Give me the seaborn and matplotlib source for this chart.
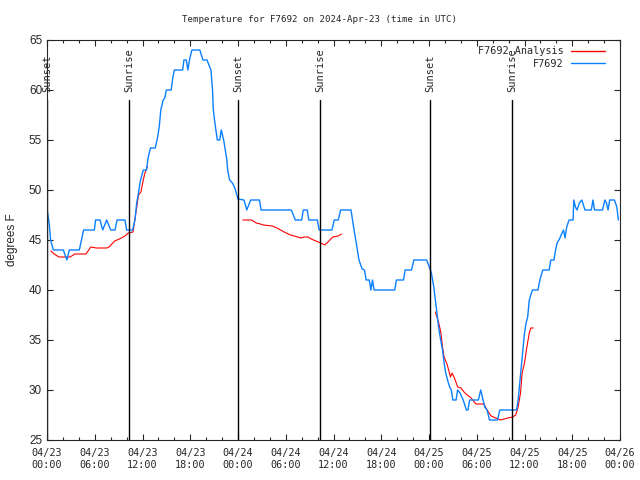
import pandas as pd
import matplotlib
matplotlib.use("Agg")
import matplotlib.pyplot as plt
import matplotlib.dates as mdates
from matplotlib.lines import Line2D
import seaborn as sns

# Observed temperature (hours after 2024-04-23 00:00 UTC, degrees F)
obs_hours = [0.0, 0.3, 0.45, 0.8, 2.05, 2.5, 2.8, 4.06, 4.6, 5.95, 6.1, 6.66, 7.0, 7.5, 8.0,
             8.55, 8.8, 9.8, 10.0, 10.76, 11.05, 11.27, 11.5, 11.7, 12.1, 12.5, 12.7, 13.0,
             13.6, 13.9, 14.1, 14.3, 14.6, 14.8, 15.0, 15.6, 15.8, 16.0, 17.05, 17.2, 17.5,
             17.7, 17.9, 18.2, 19.2, 19.6, 20.1, 20.6, 20.8, 20.9, 21.1, 21.4, 21.7, 21.9,
             22.2, 22.4, 22.6, 22.7, 22.95, 23.3, 23.6, 24.0, 24.75, 25.1, 25.6, 26.7, 26.9,
             30.7, 31.2, 32.0, 32.2, 32.7, 32.9, 33.97, 34.2, 35.8, 36.1, 36.6, 36.9, 38.2,
             38.6, 38.8, 39.0, 39.2, 39.6, 39.9, 40.1, 40.5, 40.7, 40.9, 41.1, 43.7, 43.9,
             44.8, 45.0, 45.8, 46.1, 47.7, 48.0, 48.3, 48.6, 48.8, 49.0, 49.2, 49.4, 49.7,
             49.9, 50.1, 50.4, 50.6, 50.8, 51.0, 51.4, 51.6, 51.9, 52.3, 52.7, 52.9, 53.1,
             54.2, 54.5, 54.8, 55.0, 55.3, 55.6, 56.6, 56.9, 59.0, 59.2, 59.4, 59.6, 59.8,
             60.0, 60.2, 60.4, 60.6, 60.8, 61.0, 61.7, 61.85, 62.0, 62.3, 63.1, 63.3, 63.7,
             63.9, 64.1, 64.4, 64.6, 64.9, 65.1, 65.3, 65.6, 66.1, 66.2, 66.4, 66.6, 66.9,
             67.2, 67.6, 68.4, 68.6, 68.8, 69.8, 70.1, 70.3, 70.5, 70.7, 71.3, 71.6, 71.8]
obs_temps = [48.1, 46.5, 45.0, 44.0, 44.0, 43.0, 44.0, 44.0, 46.0, 46.0, 47.0, 47.0, 46.0, 47.0, 46.0,
             46.0, 47.0, 47.0, 46.0, 46.0, 47.0, 48.7, 49.7, 50.8, 52.0, 52.0, 53.2, 54.2,
             54.2, 55.3, 56.3, 58.0, 59.0, 59.2, 60.0, 60.0, 61.2, 62.0, 62.0, 63.0, 63.0,
             62.0, 63.0, 64.0, 64.0, 63.0, 63.0, 62.0, 60.0, 58.0, 56.7, 55.0, 55.0, 56.0,
             55.0, 54.0, 53.0, 52.0, 51.0, 50.7, 50.2, 49.1, 49.0, 48.0, 49.0, 49.0, 48.0,
             48.0, 47.0, 47.0, 48.0, 48.0, 47.0, 47.0, 46.0, 46.0, 47.0, 47.0, 48.0, 48.0,
             45.9, 45.0, 44.0, 43.0, 42.1, 42.0, 41.0, 41.0, 40.0, 41.0, 40.0, 40.0, 41.0,
             41.0, 42.0, 42.0, 43.0, 43.0, 42.4, 41.7, 40.3, 39.0, 37.7, 36.3, 35.3, 34.0,
             32.7, 31.7, 30.8, 30.3, 30.0, 29.0, 29.0, 30.0, 29.7, 29.0, 28.0, 28.0, 29.0,
             29.0, 30.0, 29.0, 28.3, 28.0, 27.0, 27.0, 28.0, 28.0, 29.0, 30.7, 32.3, 34.0,
             35.7, 36.7, 37.3, 39.0, 39.5, 40.0, 40.0, 40.7, 41.2, 42.0, 42.0, 43.0, 43.0,
             44.0, 44.7, 45.1, 45.5, 46.0, 45.2, 46.3, 47.0, 47.0, 49.0, 48.3, 48.0, 48.7,
             49.0, 48.0, 48.0, 49.0, 48.0, 48.0, 49.0, 48.7, 48.0, 49.0, 49.0, 48.3, 47.0]

# Analysis temperature, three separate runs
ana1_hours = [0.5, 0.9, 1.5, 2.9, 3.5, 4.9, 5.5, 6.2, 7.5, 7.8, 8.5, 9.1, 9.8, 10.2, 10.8,
              11.0, 11.5, 11.8, 12.1, 12.3, 12.6]
ana1_temps = [43.9, 43.6, 43.3, 43.3, 43.6, 43.6, 44.3, 44.2, 44.2, 44.3, 44.9, 45.1, 45.4, 45.7, 45.8,
              46.8, 49.5, 49.8, 51.0, 51.7, 52.3]
ana2_hours = [24.6, 25.7, 26.3, 26.8, 27.2, 28.3, 28.9, 29.8, 30.6, 31.5, 31.9, 32.3, 32.8,
              33.2, 33.8, 34.4, 34.9, 35.3, 35.9, 36.6, 37.0]
ana2_temps = [47.0, 47.0, 46.7, 46.6, 46.5, 46.4, 46.2, 45.8, 45.5, 45.3, 45.2, 45.3, 45.3,
              45.1, 44.9, 44.7, 44.5, 44.8, 45.3, 45.4, 45.6]
ana3_hours = [48.8, 49.2, 49.5, 49.7, 49.9, 50.3, 50.7, 50.9, 51.2, 51.6, 52.0, 52.4, 52.8,
              53.3, 53.9, 54.9, 55.3, 55.8, 56.4, 57.0, 57.9, 58.5, 58.9, 59.2, 59.5, 59.7,
              60.0, 60.3, 60.6, 60.8, 61.1]
ana3_temps = [37.8, 36.8, 35.7, 34.3, 33.3, 32.5, 31.3, 31.7, 31.2, 30.3, 30.2, 29.8, 29.5,
              29.2, 28.6, 28.6, 28.0, 27.4, 27.2, 27.0, 27.2, 27.3, 27.5, 28.3, 29.7, 31.7,
              32.7, 34.3, 35.7, 36.2, 36.2]

# Sunrise / sunset events (hours after start)
event_hours = [0.0, 10.3, 24.0, 34.3, 48.1, 58.4]
event_names = ["Sunset", "Sunrise", "Sunset", "Sunrise", "Sunset", "Sunrise"]

start = pd.Timestamp("2024-04-23 00:00")
obs = pd.DataFrame({"time": start + pd.to_timedelta(obs_hours, unit="h"), "temp": obs_temps})
ana = pd.concat([
    pd.DataFrame({"time": start + pd.to_timedelta(h, unit="h"), "temp": t, "seg": i})
    for i, (h, t) in enumerate([(ana1_hours, ana1_temps), (ana2_hours, ana2_temps), (ana3_hours, ana3_temps)])
])

sns.set_style("ticks")
plt.rcParams["font.family"] = ["DejaVu Sans Mono"]
plt.rcParams["xtick.direction"] = "in"
plt.rcParams["ytick.direction"] = "in"

fig = plt.figure(figsize=(6.4, 4.8), dpi=100)
ax = fig.add_axes([47 / 640, 40 / 480, 573 / 640, 400 / 480])

red = "#ff0000"
blue = "#0a80ff"
sns.lineplot(data=ana, x="time", y="temp", units="seg", estimator=None, color=red, lw=0.8, ax=ax)
sns.lineplot(data=obs, x="time", y="temp", color=blue, lw=1.0, ax=ax)

ax.set_xlim(start, start + pd.Timedelta(hours=72))
ax.set_ylim(25, 65)

for h, name in zip(event_hours, event_names):
    t = start + pd.Timedelta(hours=h)
    ax.plot([t, t], [25, 59], color="black", lw=1.0)
    ax.text(t, 59.8, name, rotation=90, ha="center", va="bottom", fontsize=7.5)

ax.xaxis.set_major_locator(mdates.HourLocator(byhour=range(0, 24, 6)))
ax.xaxis.set_minor_locator(mdates.HourLocator(byhour=range(0, 24, 2)))
ax.xaxis.set_major_formatter(mdates.DateFormatter("%m/%d\n%H:%M"))
ax.set_yticks(range(25, 66, 5))
ax.tick_params(axis="both", which="major", length=4.5, width=0.8, top=True, right=True, labelsize=7.3)
ax.tick_params(axis="x", which="minor", length=2.2, width=0.8, top=True)
ax.tick_params(axis="x", pad=6)
for lab in ax.get_yticklabels():
    lab.set_fontfamily("Liberation Sans")
    lab.set_fontsize(8.5)
for s in ax.spines.values():
    s.set_linewidth(0.8)

ax.set_xlabel("")
ax.set_ylabel("degrees F", fontsize=8.5, family="Liberation Sans", labelpad=8)
# title is centred on the whole figure, not on the axes
fig.text(0.5, 1 - 20 / 480, "Temperature for F7692 on 2024-Apr-23 (time in UTC)",
         ha="center", va="center", fontsize=6.6)

handles = [Line2D([], [], color=red, lw=1.0), Line2D([], [], color=blue, lw=1.0)]
ax.legend(handles, ["F7692 Analysis", "F7692"], loc="upper right", frameon=False,
          markerfirst=False, fontsize=7.3, handlelength=3.4, borderaxespad=0.2,
          labelspacing=0.25, handletextpad=0.7, bbox_to_anchor=(0.985, 1.0))

fig.savefig("out.png", dpi=100)
